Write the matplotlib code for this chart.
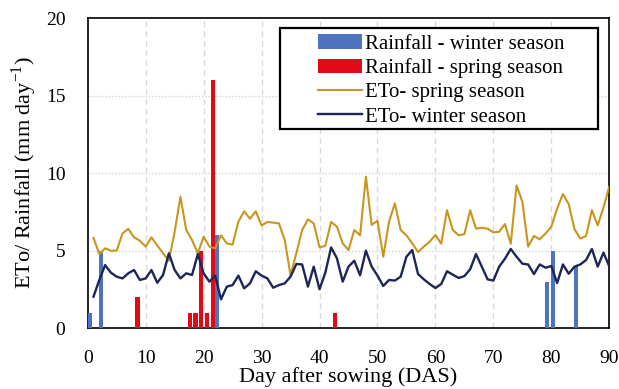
import matplotlib
matplotlib.use("Agg")
import matplotlib.pyplot as plt
from matplotlib.patches import Rectangle
import numpy as np

days = list(range(1, 91))
eto_spring = [5.81, 4.77, 5.14, 4.99, 4.99, 6.10, 6.40, 5.85, 5.63, 5.25,
              5.85, 5.33, 4.82, 4.34, 6.20, 8.47, 6.32, 5.68, 4.82, 5.89,
              5.25, 5.14, 5.98, 5.46, 5.38, 6.86, 7.53, 7.05, 7.53, 6.62,
              6.84, 6.80, 6.75, 5.68, 3.40, 4.82, 6.32, 7.01, 6.75, 5.20,
              5.30, 6.84, 6.54, 5.46, 5.03, 6.32, 5.98, 9.76, 6.65, 6.92,
              4.60, 6.86, 8.04, 6.32, 5.98, 5.46, 4.90, 5.25, 5.57, 6.00,
              5.44, 7.60, 6.32, 5.98, 6.06, 7.60, 6.41, 6.47, 6.41, 6.17,
              6.21, 6.71, 5.44, 9.20, 8.15, 5.25, 5.94, 5.72, 6.10, 6.54,
              7.70, 8.65, 8.00, 6.37, 5.77, 5.94, 7.60, 6.62, 7.78, 9.13]
eto_winter = [2.02, 3.10, 4.06, 3.57, 3.31, 3.20, 3.53, 3.74, 3.10, 3.20,
              3.74, 2.92, 3.42, 4.82, 3.74, 3.20, 3.53, 3.42, 4.77, 3.53,
              2.99, 3.38, 1.85, 2.67, 2.77, 3.38, 2.56, 2.88, 3.66, 3.38,
              3.20, 2.60, 2.77, 2.88, 3.31, 4.13, 4.10, 2.67, 3.96, 2.50,
              3.57, 5.20, 4.50, 2.99, 3.96, 4.34, 3.40, 4.99, 3.96, 3.38,
              2.71, 3.10, 3.06, 3.31, 4.60, 5.03, 3.48, 3.14, 2.84, 2.58,
              2.84, 3.66, 3.44, 3.23, 3.35, 3.79, 4.77, 3.96, 3.14, 3.06,
              3.96, 4.47, 5.10, 4.60, 4.15, 4.10, 3.48, 4.10, 3.89, 4.00,
              2.90, 4.10, 3.50, 3.96, 4.10, 4.39, 5.10, 3.96, 4.86, 3.98]

rain_spring_days = [9, 18, 19, 20, 21, 22, 43]
rain_spring = [2, 1, 1, 5, 1, 16, 1]
rain_winter_days = [0, 2, 22, 79, 80, 84]
rain_winter = [1, 5, 6, 3, 5, 4]

xticks = [0, 10, 20, 30, 40, 50, 60, 70, 80, 90]
yticks = [0, 5, 10, 15, 20]

plt.rcParams['font.family'] = ['Liberation Serif', 'DejaVu Serif']
plt.rcParams['mathtext.fontset'] = 'custom'
plt.rcParams['mathtext.rm'] = 'Liberation Serif'

fig = plt.figure(figsize=(6.19, 3.89), dpi=100)
ax = fig.add_axes([0.1417, 0.1568, 0.8426, 0.7969])

c_gold = '#C8961E'
c_navy = '#1E2558'
c_blue = '#4F74BF'
c_red = '#E30A17'

bw = 0.72
hb = ax.bar(np.array(rain_winter_days) + 0.3, rain_winter, width=bw, color=c_blue,
            label='Rainfall - winter season', zorder=3)
hr = ax.bar(np.array(rain_spring_days) - 0.4, rain_spring, width=bw, color=c_red,
            label='Rainfall - spring season', zorder=3)
hs, = ax.plot(days, eto_spring, color=c_gold, lw=1.5, label='ETo- spring season', zorder=4)
hw, = ax.plot(days, eto_winter, color=c_navy, lw=1.7, label='ETo- winter season', zorder=4)

ax.set_xlim(0, 90)
ax.set_ylim(0, 20)
ax.set_xticks(xticks)
ax.set_yticks(yticks)
ax.tick_params(length=0, labelsize=14)
ax.tick_params(axis='x', pad=15.5)
ax.tick_params(axis='y', pad=16)

for x in xticks[1:-1]:
    ax.axvline(x, color='#D9D9D9', lw=1.0, ls=(0, (4, 3)), zorder=1)
for y in yticks[1:-1]:
    ax.axhline(y, color='#D9D9D9', lw=1.0, ls=(0, (1.2, 1.2)), zorder=1)

for s in ax.spines.values():
    s.set_linewidth(1.2)
    s.set_color('black')

ax.set_xlabel('Day after sowing (DAS)', fontsize=16, labelpad=0.5)
ax.set_ylabel('ETo/ Rainfall (mm day$^{\\mathregular{-1}}$)', fontsize=16, labelpad=5)

# legend frame
ax.add_patch(Rectangle((0.3687, 0.6419), 0.6096, 0.3258, transform=ax.transAxes,
                       facecolor='white', edgecolor='black', lw=1.6, zorder=5))
leg = ax.legend([hb, hr, hs, hw],
                ['Rainfall - winter season', 'Rainfall - spring season',
                 'ETo- spring season', 'ETo- winter season'],
                loc='upper left', bbox_to_anchor=(0.4418, 0.948), borderaxespad=0,
                fontsize=15, frameon=False, handlelength=2.1,
                handletextpad=0.15, labelspacing=0.22, borderpad=0)
leg.set_zorder(6)

fig.savefig('out.png', dpi=100)
